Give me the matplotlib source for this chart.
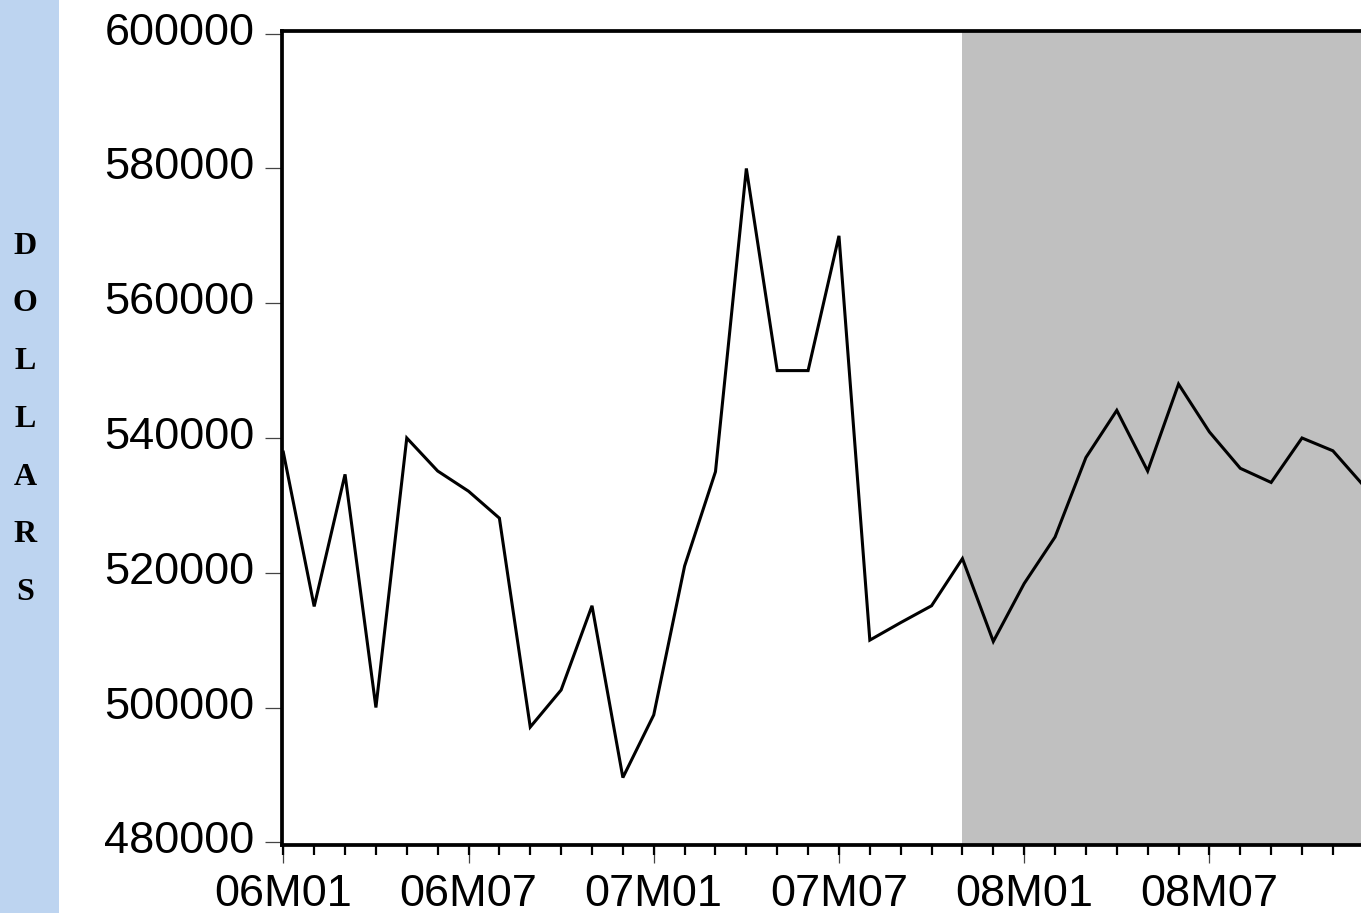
import matplotlib
matplotlib.use("Agg")
import matplotlib.pyplot as plt
from matplotlib.patches import Rectangle
from matplotlib.ticker import FixedLocator, FuncFormatter
from matplotlib.transforms import ScaledTranslation

# ---- data ----
values = [537900, 515000, 534600, 500000, 540000, 535100, 532100, 528100,
          497100, 502600, 515100, 489600, 498900, 521000, 535000, 580000,
          550000, 550000, 570000, 510000, 512600, 515100, 522100, 509800,
          518400, 525300, 537100, 544100, 535100, 548000, 540900, 535500,
          533400, 540000, 538100, 532900]
month_index = list(range(len(values)))
tick_labels = ["06M01", "06M07", "07M01", "07M07", "08M01", "08M07"]
tick_months = [0, 6, 12, 18, 24, 30]
yticks = [480000, 500000, 520000, 540000, 560000, 580000, 600000]
forecast_start = 22  # 07M11
side_label = "DOLLARS"

W, H = 1361, 913
fig = plt.figure(figsize=(W / 100, H / 100), dpi=100)
fig.patch.set_facecolor("white")

# left blue strip
fig.patches.append(Rectangle((0, 0), 59 / W, 1, transform=fig.transFigure,
                             facecolor="#bdd4f0", edgecolor="none", zorder=0))
for i, ch in enumerate(side_label):
    fig.text(25 / W, 1 - (246 + i * 57.8) / H, ch, ha="center", va="center",
             fontsize=23, fontweight="bold", family="Liberation Serif", color="black")

# axes geometry
px_per_month = 30.87
x0_px = 283.3
xlim = (-0.05, 35)
left_px = x0_px + xlim[0] * px_per_month
right_px = x0_px + xlim[1] * px_per_month
top_px, bottom_px = 31, 845.3
ax = fig.add_axes([left_px / W, 1 - bottom_px / H, (right_px - left_px) / W,
                   (bottom_px - top_px) / H])
ax.set_xlim(*xlim)
ax.set_ylim(479550, 600400)

ax.axvspan(forecast_start, 40, color="#c0c0c0", lw=0, zorder=0)
ax.plot(month_index, values, color="black", lw=2.2, zorder=3,
        solid_joinstyle="miter")

for s in ["left", "top", "bottom"]:
    ax.spines[s].set_linewidth(2.7)
    ax.spines[s].set_color("black")
ax.spines["right"].set_visible(False)

ax.yaxis.set_major_locator(FixedLocator(yticks))
ax.yaxis.set_major_formatter(FuncFormatter(lambda v, p: f"{int(v)}"))
ax.xaxis.set_major_locator(FixedLocator(tick_months))
ax.xaxis.set_major_formatter(FuncFormatter(
    lambda v, p: tick_labels[tick_months.index(int(round(v)))] if int(round(v)) in tick_months else ""))
ax.xaxis.set_minor_locator(FixedLocator(month_index))
ax.xaxis.remove_overlapping_locs = False

ax.tick_params(axis="y", which="major", direction="out", length=12.5, width=0.9,
               color="#444444", pad=7, labelsize=32.5, labelfontfamily="Liberation Sans")
ax.tick_params(axis="x", which="major", direction="out", length=13, width=0.9,
               color="#444444", pad=8, labelsize=32.5, labelfontfamily="Liberation Sans")
ax.tick_params(axis="x", which="minor", direction="out", length=7.5, width=1.6,
               color="black")

shift = ScaledTranslation(0, 5 / 100, fig.dpi_scale_trans)
for lab in ax.get_yticklabels():
    lab.set_transform(lab.get_transform() + shift)

fig.savefig("out.png", dpi=100)
